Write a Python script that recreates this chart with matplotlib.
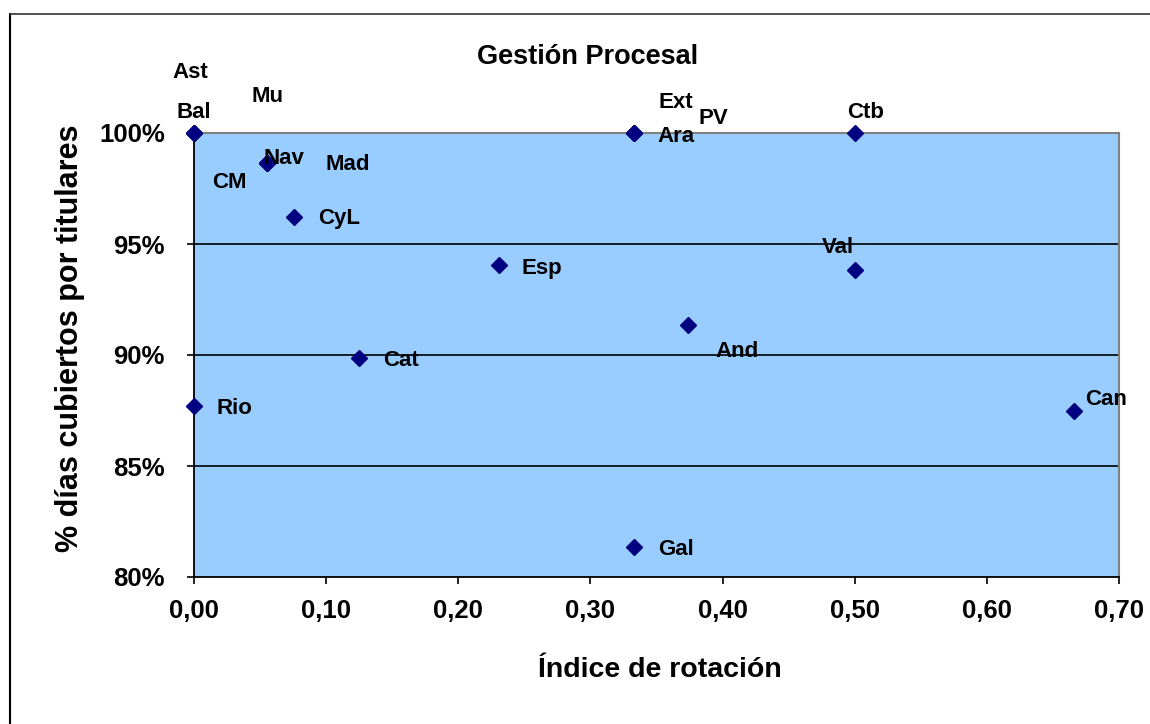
import matplotlib
matplotlib.use("Agg")
import matplotlib.pyplot as plt
from matplotlib.lines import Line2D
from matplotlib.ticker import FuncFormatter, MultipleLocator

plt.rcParams['font.family'] = ['Liberation Sans', 'DejaVu Sans']

# Data
regions = ["Ast", "Bal", "CM", "Mu", "Nav", "Mad", "CyL", "Esp", "Cat", "Rio",
           "Ara", "Ext", "PV", "Ctb", "Val", "And", "Can", "Gal"]
rotation = [0.0, 0.0, 0.0, 0.0556, 0.0556, 0.0556, 0.0757, 0.231, 0.125, 0.0,
            0.333, 0.333, 0.333, 0.5, 0.5, 0.374, 0.666, 0.333]
coverage = [1.00, 1.00, 1.00, 0.9865, 0.9865, 0.9865, 0.9622, 0.9405, 0.8986, 0.877,
            1.00, 1.00, 1.00, 1.00, 0.9383, 0.9135, 0.875, 0.8135]
# label offsets in pixels (dx, dy; dy positive = up)
label_dx = [-4, 0, 35, 0, 16, 80, 45, 43, 42, 40, 42, 42, 79, 11, -17, 49, 32, 42]
label_dy = [61, 20, -50, 66, 4, -2, -2, -3, -2, -2, -3, 30, 15, 21, 22, -26, 11, -2]

fig = plt.figure(figsize=(11.5, 7.24), dpi=100)
ax = fig.add_axes([194/1150, 1-577/724, (1119-194)/1150, (577-133)/724])
ax.set_facecolor('#99CCFF')

ax.plot(rotation, coverage, linestyle='none', marker='D', markersize=8.5,
        color='#000080', clip_on=False, zorder=5)

for name, x, y, dx, dy in zip(regions, rotation, coverage, label_dx, label_dy):
    ax.annotate(name, (x, y), xytext=(dx, dy), textcoords='offset pixels',
                ha='center', va='center', fontsize=16, fontweight='bold',
                annotation_clip=False, zorder=6)

ax.set_xlim(0, 0.70)
ax.set_ylim(0.80, 1.00)
ax.xaxis.set_major_locator(MultipleLocator(0.10))
ax.yaxis.set_major_locator(MultipleLocator(0.05))
ax.xaxis.set_major_formatter(FuncFormatter(lambda v, p: f"{v:.2f}".replace('.', ',')))
ax.yaxis.set_major_formatter(FuncFormatter(lambda v, p: f"{v*100:.0f}%"))

for yv in [0.85, 0.90, 0.95]:
    ax.axhline(yv, color='black', linewidth=1.2, zorder=1)

for s in ['top', 'right']:
    ax.spines[s].set_color('#808080')
    ax.spines[s].set_linewidth(1.5)
for s in ['left', 'bottom']:
    ax.spines[s].set_color('black')
    ax.spines[s].set_linewidth(1.3)

ax.tick_params(axis='x', direction='out', length=5, width=1.2, pad=11,
               labelsize=18.5)
ax.tick_params(axis='y', direction='out', length=5, width=1.2, pad=16,
               labelsize=18.5)
for lab in ax.get_xticklabels() + ax.get_yticklabels():
    lab.set_fontweight('bold')

fig.text(588/1150, 1-57/724, "Gestión Procesal", ha='center', va='center',
         fontsize=19.5, fontweight='bold')
fig.text(660/1150, 1-670/724, "Índice de rotación", ha='center', va='center',
         fontsize=20.5, fontweight='bold')
fig.text(70/1150, 1-338/724, "% días cubiertos por titulares", ha='center',
         va='center', rotation=90, fontsize=22, fontweight='bold')

# outer chart frame (left and top edges)
fig.add_artist(Line2D([10/1150, 10/1150], [0, 1-14/724], color='black', linewidth=1.5))
fig.add_artist(Line2D([10/1150, 1], [1-14/724, 1-14/724], color='#333333', linewidth=1.2))

fig.savefig("out.png", dpi=100)
